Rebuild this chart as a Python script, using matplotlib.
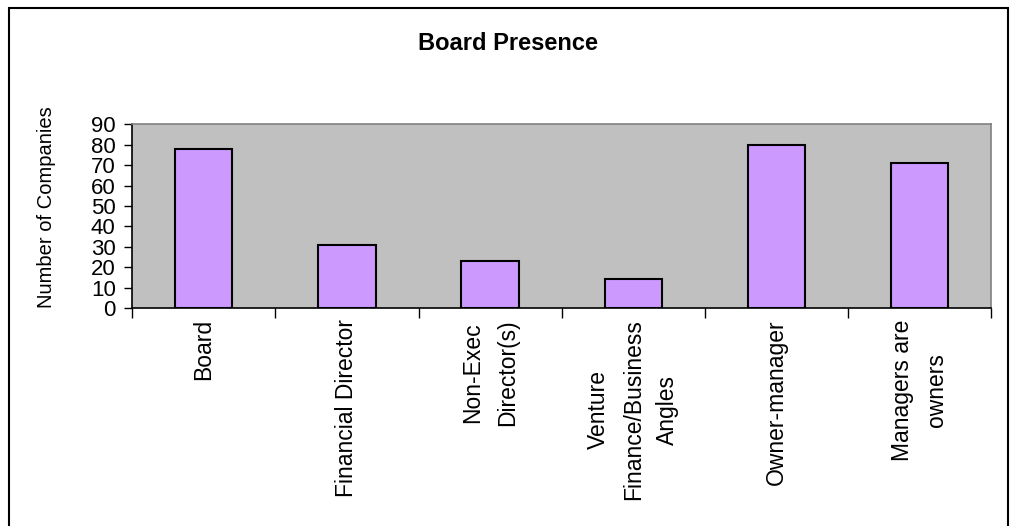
import matplotlib
matplotlib.use("Agg")
import matplotlib.pyplot as plt
from matplotlib.patches import Rectangle
import numpy as np

categories = [
    "Board",
    "Financial Director",
    "Non-Exec\nDirector(s)",
    "Venture\nFinance/Business\nAngles",
    "Owner-manager",
    "Managers are\nowners",
]
companies = [78, 31, 23, 14, 80, 71]
y_ticks = [0, 10, 20, 30, 40, 50, 60, 70, 80, 90]

plt.rcParams["font.family"] = ["Liberation Sans", "DejaVu Sans"]

W, H = 1016, 526
fig = plt.figure(figsize=(W / 100, H / 100), dpi=100)
fig.patch.set_facecolor("white")

# plot area in pixel coordinates
left, right, top, bottom = 132.3, 991.0, 124.3, 308.0
ax = fig.add_axes([left / W, 1 - bottom / H, (right - left) / W, (bottom - top) / H])
ax.set_facecolor("#C0C0C0")

x = np.arange(len(categories))
ax.bar(x, companies, width=0.4, color="#CC99FF", edgecolor="black", linewidth=1.5, zorder=3)

ax.set_xlim(-0.5, len(categories) - 0.5)
ax.set_ylim(0, 90)
ax.set_yticks(y_ticks)
ax.set_yticklabels([str(v) for v in y_ticks], fontsize=16)
ax.tick_params(axis="y", direction="out", length=6, width=1, pad=6, color="black")

# category boundaries get the tick marks, centres carry the labels
ax.set_xticks(np.arange(-0.5, len(categories), 1.0), minor=True)
ax.set_xticks(x)
ax.set_xticklabels([])
ax.tick_params(axis="x", which="major", length=0)
ax.tick_params(axis="x", which="minor", direction="out", length=7, width=1, color="black")

for xi, lab in zip(x, categories):
    ax.text(xi, -5.5, lab, rotation=90, ha="center", va="top",
            multialignment="center", fontsize=16.5, linespacing=1.65,
            transform=ax.transData, clip_on=False)

for side in ("left", "bottom"):
    ax.spines[side].set_color("black")
    ax.spines[side].set_linewidth(1.2)
for side in ("top", "right"):
    ax.spines[side].set_color("#808080")
    ax.spines[side].set_linewidth(1.2)

fig.text(508 / W, 1 - 44 / H, "Board Presence", ha="center", va="center",
         fontsize=17, fontweight="bold")
fig.text(47 / W, 1 - 207 / H, "Number of Companies", rotation=90,
         ha="center", va="center", fontsize=14.5)

# chart frame (bottom edge runs off the canvas)
fig.add_artist(Rectangle((8.5 / W, -0.05), (1008 - 8.5) / W, 1.05 - 8 / H,
                         transform=fig.transFigure, fill=False,
                         edgecolor="black", linewidth=1.5, clip_on=False))

fig.savefig("out.png", dpi=100)
